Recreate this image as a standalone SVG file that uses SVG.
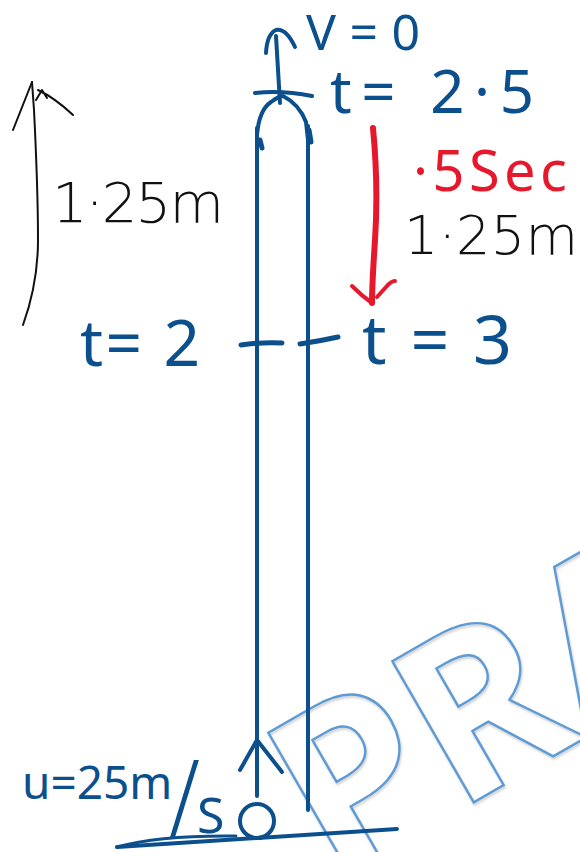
<svg xmlns="http://www.w3.org/2000/svg" width="580" height="852" viewBox="0 0 580 852">
<defs>
<style>
.blue{stroke:#0b4f8c;fill:none;stroke-linecap:round;stroke-linejoin:round}
.blk{stroke:#111;fill:none;stroke-width:2;stroke-linecap:round;stroke-linejoin:round}
.red{stroke:#e5192b;fill:none;stroke-linecap:round;stroke-linejoin:round}
.tb{fill:#0b4f8c;font-family:"Noto Sans","DejaVu Sans",sans-serif}
.tk{fill:#111;font-family:"DejaVu Sans","Noto Sans",sans-serif;font-weight:200}
.tr{fill:#e5192b;font-family:"Noto Sans","DejaVu Sans",sans-serif}
.wm{fill:none;stroke:#5b9bd5;stroke-width:2.4;font-family:"Open Sans","Noto Sans",sans-serif;font-weight:bold;font-size:228px}
</style>
<filter id="sh" x="-10%" y="-10%" width="120%" height="120%">
<feDropShadow dx="1" dy="2" stdDeviation="1.2" flood-color="#999" flood-opacity="0.5"/>
</filter>
</defs>
<rect width="580" height="852" fill="#fff"/>

<g id="watermark" filter="url(#sh)">
<text class="wm" x="0" y="0" transform="translate(332 884) rotate(-30)">PRA</text>
</g>

<g id="connectors">
<!-- top vertical arrow -->
<path class="blue" stroke-width="4" d="M280,103 L276,36"/>
<path class="blue" stroke-width="4" d="M266,53 Q267,34 276,30 Q286,28 295,47"/>
<!-- top horizontal -->
<path class="blue" stroke-width="4" d="M255,93 Q282,90 312,96"/>
<!-- arc -->
<path class="blue" stroke-width="4" d="M257,135 Q259,110 271,102 Q279,96 283,96 Q299,104 306,122 L308,140"/>
<!-- vertical lines -->
<path class="blue" stroke-width="4" d="M257,128 L257,796"/>
<path class="blue" stroke-width="4" d="M308,126 L308,810"/>
<path class="blue" stroke-width="5" d="M260,140 L262,148 M309,130 L311,142"/>
<!-- ticks -->
<path class="blue" stroke-width="5" d="M241,345 Q262,342 282,343"/>
<path class="blue" stroke-width="5" d="M300,344 Q320,341 338,337"/>
<!-- bottom arrowhead -->
<path class="blue" stroke-width="4" d="M240,770 L257,740 L282,772"/>
<!-- ball -->
<circle class="blue" stroke-width="4" cx="257" cy="821" r="17"/>
<!-- ground -->
<path class="blue" stroke-width="4" d="M117,847 L397,829"/>
<path class="blue" stroke-width="3" d="M117,847 Q160,835 236,836"/>
<!-- black left arrow -->
<path class="blk" d="M23,325 C32,300 38,270 38,240 C38,190 36,150 34,110 L32,82"/>
<path class="blk" d="M13,130 L32,82 M38,90 Q55,98 73,115 M36,100 L42,90 L47,98"/>
<!-- red arrow -->
<path class="red" stroke-width="6" d="M373,128 C377,170 377,210 375,240 C373,270 372,290 372,303"/>
<path class="red" stroke-width="4" d="M352,286 Q362,296 372,303 M377,297 L386,287 Q391,281 395,281"/>
</g>

<g id="label-v0"><text class="tb" x="306" y="50" font-size="50" textLength="114">V=0</text></g>
<g id="label-t25"><text class="tb" x="330" y="113" font-size="60" textLength="204">t= 2·5</text></g>
<g id="label-left-h"><text class="tk" x="52" y="222" font-size="56" textLength="172">1·25m</text></g>
<g id="label-half"><text class="tr" x="413" y="191" font-size="56" textLength="154">·5Sec</text></g>
<g id="label-right-h"><text class="tk" x="404" y="254" font-size="54" textLength="174">1·25m</text></g>
<g id="label-t2"><text class="tb" x="80" y="366" font-size="64" textLength="120">t= 2</text></g>
<g id="label-t3"><text class="tb" x="362" y="364" font-size="68" textLength="150">t=3</text></g>
<g id="label-u"><text class="tb" x="22" y="799" font-size="46">u=25m<tspan x="168" y="830" font-size="96" font-family="DejaVu Sans" font-weight="200">/</tspan><tspan x="197" y="833" font-size="50">S</tspan></text></g>
</svg>
